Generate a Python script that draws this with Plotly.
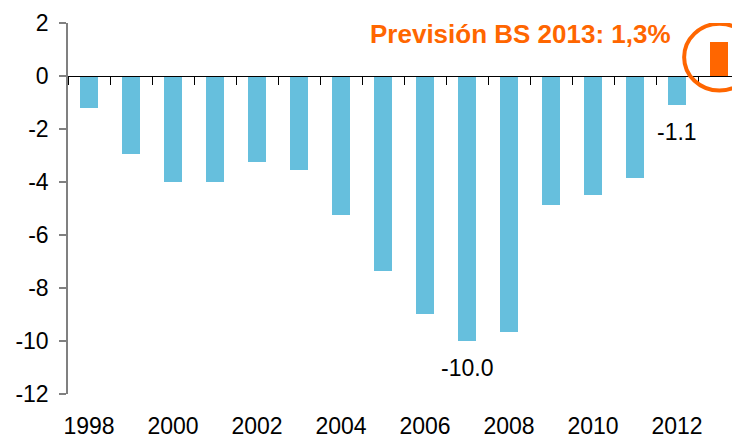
import plotly.graph_objects as go

years = [str(y) for y in range(1998, 2014)]
values = [-1.2, -2.93, -4.0, -4.0, -3.23, -3.54, -5.23, -7.35,
          -8.97, -10.0, -9.65, -4.86, -4.48, -3.84, -1.1, 1.3]
year_labels = ['1998', '2000', '2002', '2004', '2006', '2008', '2010', '2012']
y_ticks = [-12, -10, -8, -6, -4, -2, 0, 2]

blue = '#66BFDD'
orange = '#FF6600'
font_family = 'Liberation Sans, Arial, sans-serif'

bar_colors = [orange if y == '2013' else blue for y in years]

fig = go.Figure()
fig.add_trace(go.Bar(
    x=years, y=values,
    marker=dict(color=bar_colors, line=dict(width=0)),
    width=0.43,
    hoverinfo='skip',
    showlegend=False
))
# invisible helper trace so the bottom label axis gets drawn
fig.add_trace(go.Scatter(
    x=years, y=[0] * len(years), xaxis='x2', yaxis='y',
    mode='markers', marker=dict(opacity=0),
    hoverinfo='skip', showlegend=False
))

# the page body adds an 8px offset, margins are reduced by that amount
fig.update_layout(
    width=740, height=439,
    margin=dict(l=60, r=8, t=15, b=53, autoexpand=False),
    plot_bgcolor='white', paper_bgcolor='white',
    font=dict(family=font_family, size=23, color='black'),
    bargap=0,
    xaxis=dict(
        type='category', range=[-0.5, 15.5], automargin=False,
        anchor='free', position=12 / 14,
        showticklabels=False, showgrid=False, zeroline=False,
        showline=True, linecolor='black', linewidth=1,
        ticks='outside', tickson='boundaries', ticklen=8,
        tickcolor='black', tickwidth=1,
    ),
    xaxis2=dict(
        type='category', overlaying='x', matches='x', anchor='y', side='bottom',
        automargin=False,
        tickvals=year_labels, ticktext=year_labels,
        showline=False, showgrid=False, zeroline=False, ticks='',
        ticklabelstandoff=16,
        tickfont=dict(size=23),
    ),
    yaxis=dict(
        range=[-12, 2], tickvals=y_ticks, ticktext=[str(v) for v in y_ticks],
        automargin=False,
        showgrid=False, zeroline=False,
        showline=True, linecolor='#808080', linewidth=1.5,
        ticks='outside', ticklen=7, tickcolor='#808080', tickwidth=1.5,
        ticklabelstandoff=6,
        tickfont=dict(size=23),
    ),
)

# value labels under selected bars (category axes take the index here)
for idx in (9, 14):
    fig.add_annotation(
        x=idx, y=values[idx], text=f'{values[idx]:.1f}',
        showarrow=False, yanchor='top', yshift=-12,
        font=dict(size=23, color='black'),
    )

fig.add_annotation(
    xref='paper', yref='paper', x=0.674, y=0.97,
    text='<b>Previsión BS 2013: 1,3%</b>', showarrow=False,
    xanchor='center', yanchor='middle',
    font=dict(size=26, color=orange),
)

fig.add_shape(
    type='circle', xref='x', yref='y',
    x0=15 - 0.83, x1=15 + 0.85, y0=0.7 - 1.25, y1=0.7 + 1.27,
    line=dict(color=orange, width=4),
)

fig.write_html('out.html')
